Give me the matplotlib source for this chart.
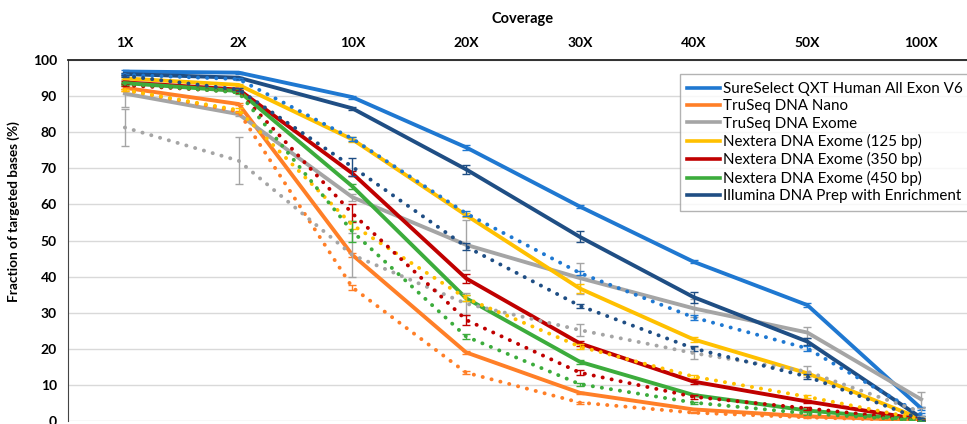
import numpy as np
import matplotlib.pyplot as plt

plt.rcParams['font.family'] = ['Lato', 'DejaVu Sans']

coverage = ['1X', '2X', '10X', '20X', '30X', '40X', '50X', '100X']

names = ['SureSelect QXT Human All Exon V6', 'TruSeq DNA Nano', 'TruSeq DNA Exome',
         'Nextera DNA Exome (125 bp)', 'Nextera DNA Exome (350 bp)',
         'Nextera DNA Exome (450 bp)', 'Illumina DNA Prep with Enrichment']
colors = ['#1f78d1', '#ff7f27', '#a5a5a5', '#ffc000', '#c00000', '#3cac3c', '#1f4e84']

# solid lines
sureselect = [96.8, 96.5, 89.7, 75.8, 59.4, 44.1, 32.1, 3.5]
truseq_nano = [92.3, 87.8, 46.0, 19.0, 7.8, 3.2, 1.3, 0.2]
truseq_exome = [90.7, 85.0, 62.0, 48.8, 39.6, 31.2, 24.5, 6.0]
nextera_125 = [94.9, 93.1, 78.0, 57.0, 36.7, 22.6, 13.2, 0.6]
nextera_350 = [93.8, 91.8, 68.6, 39.5, 21.5, 10.9, 5.4, 0.4]
nextera_450 = [93.6, 91.4, 65.0, 34.0, 16.4, 7.2, 2.9, 0.2]
illumina = [96.1, 95.1, 86.6, 69.7, 51.0, 34.3, 22.0, 0.9]

# dotted lines
sureselect_d = [95.9, 94.7, 78.2, 57.5, 41.0, 28.7, 20.1, 1.8]
truseq_nano_d = [91.7, 85.7, 37.0, 13.4, 5.1, 2.3, 1.0, 0.1]
truseq_exome_d = [81.3, 72.1, 46.0, 32.5, 25.2, 18.8, 13.7, 2.5]
nextera_125_d = [91.7, 86.1, 54.3, 34.0, 20.6, 12.3, 6.7, 0.5]
nextera_350_d = [93.0, 91.2, 57.5, 28.0, 13.4, 6.7, 3.5, 0.2]
nextera_450_d = [93.4, 91.0, 52.5, 23.4, 10.2, 5.1, 2.1, 0.1]
illumina_d = [95.6, 91.8, 70.4, 48.3, 31.9, 20.1, 12.3, 0.5]

# error bars
err_sureselect = [0.4, 0.3, 0.4, 0.6, 0.3, 0.4, 0.6, 0.5]
err_truseq_nano = [0.4, 0.4, 0.5, 0.4, 0.3, 0.2, 0.2, 0.1]
err_truseq_exome = [3.8, 0.5, 1.0, 7.0, 4.3, 2.5, 1.5, 2.0]
err_nextera_125 = [0.3, 0.3, 0.6, 0.6, 1.2, 0.6, 0.5, 0.2]
err_nextera_350 = [0.3, 0.4, 0.7, 1.2, 0.6, 0.7, 0.4, 0.2]
err_nextera_450 = [0.3, 0.4, 0.6, 0.8, 0.5, 0.4, 0.3, 0.1]
err_illumina = [0.3, 0.3, 0.4, 1.2, 1.5, 1.5, 1.0, 0.6]

err_sureselect_d = [0.3, 0.3, 0.6, 0.6, 0.6, 0.6, 0.6, 0.5]
err_truseq_nano_d = [0.3, 0.3, 0.6, 0.4, 0.3, 0.2, 0.2, 0.1]
err_truseq_exome_d = [5.0, 6.5, 6.0, 3.0, 1.6, 1.7, 1.5, 1.0]
err_nextera_125_d = [0.4, 0.5, 1.0, 0.8, 0.6, 0.5, 0.4, 0.2]
err_nextera_350_d = [0.3, 0.4, 2.5, 1.5, 0.7, 0.5, 0.4, 0.2]
err_nextera_450_d = [0.3, 0.4, 3.0, 0.8, 0.4, 0.3, 0.3, 0.1]
err_illumina_d = [0.3, 0.4, 2.5, 1.0, 0.5, 0.6, 0.6, 0.3]

solid = [sureselect, truseq_nano, truseq_exome, nextera_125, nextera_350, nextera_450, illumina]
dotted = [sureselect_d, truseq_nano_d, truseq_exome_d, nextera_125_d, nextera_350_d, nextera_450_d, illumina_d]
err_s = [err_sureselect, err_truseq_nano, err_truseq_exome, err_nextera_125, err_nextera_350, err_nextera_450, err_illumina]
err_d = [err_sureselect_d, err_truseq_nano_d, err_truseq_exome_d, err_nextera_125_d, err_nextera_350_d, err_nextera_450_d, err_illumina_d]

fig = plt.figure(figsize=(9.67, 4.24), dpi=100)
ax = fig.add_axes([68/967, 3/424, 910/967, 361/424])
x = np.arange(len(coverage))

for i in range(len(names)):
    ax.errorbar(x, solid[i], yerr=err_s[i], color=colors[i], lw=2.8, elinewidth=1,
                capsize=3, capthick=1, label=names[i], zorder=3)
for i in range(len(names)):
    ax.errorbar(x, dotted[i], yerr=err_d[i], color=colors[i], lw=2.8, ls=(0, (0.05, 2.3)),
                dash_capstyle='round', elinewidth=1, capsize=3, capthick=1, zorder=4)

ax.set_xlim(-0.5, len(coverage) - 0.5)
ax.set_ylim(0, 100)
ax.set_yticks(range(0, 101, 10))
ax.set_xticks(x)
ax.set_xticklabels(coverage)
ax.xaxis.tick_top()
ax.xaxis.set_label_position('top')
ax.set_xlabel('Coverage', fontsize=10.5, fontweight='bold', labelpad=10)
ax.set_ylabel('Fraction of targeted bases (%)', fontsize=9.8, fontweight='bold')
ax.yaxis.set_label_coords(-0.053, 0.58)
ax.tick_params(axis='both', length=0, labelsize=10, pad=8)
for lab in ax.get_xticklabels() + ax.get_yticklabels():
    lab.set_fontweight('bold')

ax.grid(axis='y', color='#d9d9d9', lw=1)
ax.set_axisbelow(True)
ax.spines['right'].set_visible(False)
ax.spines['bottom'].set_visible(False)
ax.spines['top'].set_color('#222222')
ax.spines['top'].set_linewidth(1.3)
ax.spines['left'].set_color('#444444')

handles = [plt.Line2D([], [], color=c, lw=2.6) for c in colors]
leg = ax.legend(handles, names, loc='upper left', bbox_to_anchor=(0.672, 0.96),
                fontsize=10.9, frameon=True, fancybox=False, handlelength=2.2,
                handletextpad=0.2, labelspacing=0.22, borderpad=0.5, borderaxespad=0)
leg.get_frame().set_edgecolor('#a0a0a0')
leg.get_frame().set_linewidth(1)

fig.savefig('out.png', dpi=100)
